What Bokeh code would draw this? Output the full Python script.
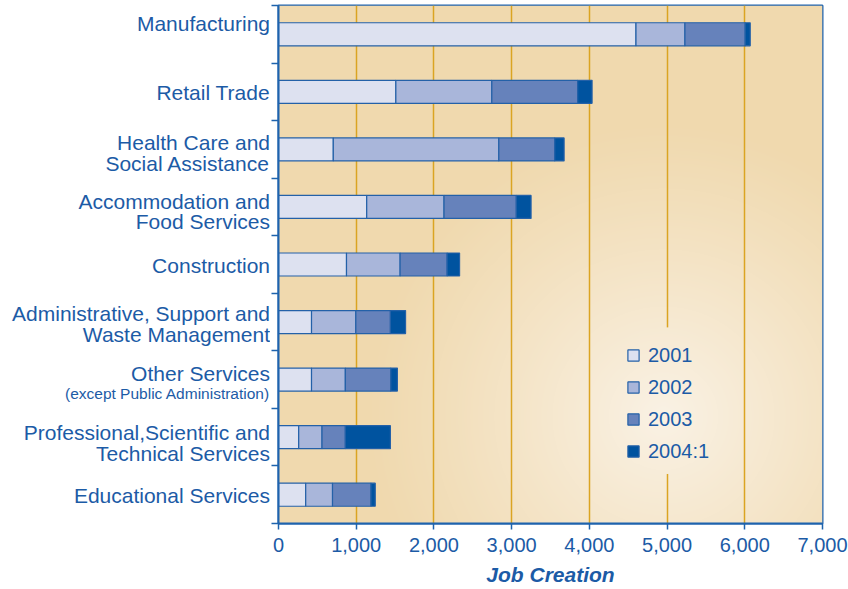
import numpy as np
from bokeh.plotting import figure
from bokeh.layouts import row
from bokeh.models import (Range1d, FactorRange, FixedTicker, NumeralTickFormatter, Legend,
                          LinearAxis)
from bokeh.core.properties import value
from bokeh.embed import file_html
from bokeh.resources import INLINE

# ---------------- data ----------------
categories = ["Manufacturing", "Retail Trade", "Health Care and\nSocial Assistance",
              "Accommodation and\nFood Services", "Construction",
              "Administrative, Support and\nWaste Management", "Other Services",
              "Professional,Scientific and\nTechnical Services", "Educational Services"]
sub_labels = ["", "", "", "", "", "", "(except Public Administration)", "", ""]
years = ["2001", "2002", "2003", "2004:1"]
v2001 = [4600, 1510, 705, 1135, 875, 425, 425, 260, 350]
v2002 = [630, 1235, 2130, 995, 690, 570, 435, 300, 345]
v2003 = [775, 1105, 720, 930, 605, 445, 585, 300, 495]
v2004 = [65, 185, 120, 190, 160, 195, 85, 580, 55]
x_ticks = [0, 1000, 2000, 3000, 4000, 5000, 6000, 7000]

# ---------------- style ----------------
FONT = "Liberation Sans"
BLUE_TXT = "#1c5ba6"
BLUE_LINE = "#1e63ad"
GOLD = "#dba422"
COLORS = ["#dde1f0", "#a9b6da", "#6682bb", "#00539f"]

H = 588
LW = 270                      # width of label panel
MW = 848 - LW                 # width of main panel
FL, FT, FB = 8, 5, 60
FW = 544                      # frame width
FR = MW - FL - FW

n = len(categories)
yr = FactorRange(factors=categories[::-1])

# ---------------- main chart ----------------
p = figure(width=MW, height=H, output_backend="svg", toolbar_location=None,
           y_range=yr, x_range=Range1d(0, 7000), y_axis_location=None,
           min_border_left=FL, min_border_right=FR, min_border_top=FT, min_border_bottom=FB,
           border_fill_color="white")

# background gradient (decoration), in synthetic category coordinates 0..n
fw, fh = FW, H - FT - FB
xs = np.arange(fw) + 0.5
ys = fh - (np.arange(fh) + 0.5)
X, Y = np.meshgrid(xs, ys)
CX, CY, R = 385, 415, 300.0
d = np.hypot(X - CX, Y - CY)
t = np.clip(1 - d / R, 0, 1) ** 1.1
beige = np.array([240, 217, 174], float)
light = np.array([250, 242, 229], float)
rgb = beige[None, None, :] + (light - beige)[None, None, :] * t[..., None]
img = np.empty((fh, fw), dtype=np.uint32)
view = img.view(dtype=np.uint8).reshape((fh, fw, 4))
for k in range(3):
    view[..., k] = rgb[..., k].astype(np.uint8)
view[..., 3] = 255
p.image_rgba(image=[img], x=0, y=0, dw=7000, dh=n, level="image")

# patch of the same background drawn over the grid behind the legend
c0, c1, r0, r1 = 360, 412, 50, 198
p.image_rgba(image=[np.ascontiguousarray(img[r0:r1, c0:c1])],
             x=c0 * 7000 / fw, y=r0 * n / fh, dw=(c1 - c0) * 7000 / fw, dh=(r1 - r0) * n / fh,
             level="glyph")

src = dict(cat=categories, s2001=v2001, s2002=v2002, s2003=v2003, s2004=v2004)
rs = p.hbar_stack(["s2001", "s2002", "s2003", "s2004"], y="cat", height=0.4, source=src,
                  fill_color=COLORS, line_color="#2461a8", line_width=1.2)

legend = Legend(items=[(y, [r]) for y, r in zip(years, rs)], location=(348, 60),
                label_text_font=FONT, label_text_font_size="20px", label_text_color=BLUE_TXT,
                glyph_width=14, glyph_height=14, label_height=24, spacing=8, padding=10,
                margin=0, label_standoff=8, border_line_color=None,
                background_fill_alpha=0)
p.add_layout(legend, "center")

# x axis
p.xaxis.ticker = FixedTicker(ticks=x_ticks)
p.xaxis.formatter = NumeralTickFormatter(format="0,0")
p.xaxis.axis_label = "Job Creation"
p.xaxis.axis_label_text_font = FONT
p.xaxis.axis_label_text_font_style = "bold italic"
p.xaxis.axis_label_text_font_size = "21px"
p.xaxis.axis_label_text_color = BLUE_TXT
p.xaxis.axis_label_standoff = 8
p.xaxis.major_label_text_font = FONT
p.xaxis.major_label_text_font_size = "20px"
p.xaxis.major_label_text_color = BLUE_TXT
p.xaxis.major_label_standoff = 8
p.xaxis.axis_line_color = BLUE_LINE
p.xaxis.axis_line_width = 2
p.xaxis.major_tick_line_color = BLUE_LINE
p.xaxis.major_tick_line_width = 1.5
p.xaxis.major_tick_out = 6
p.xaxis.major_tick_in = 0
p.xaxis.minor_tick_line_color = None

# left axis: tick marks at category boundaries
bounds = list(range(n + 1))
yax = LinearAxis(ticker=FixedTicker(ticks=bounds),
                 major_label_overrides={b: "" for b in bounds},
                 major_label_text_font_size="1px", major_label_standoff=0,
                 axis_line_color=BLUE_LINE, axis_line_width=2,
                 major_tick_line_color=BLUE_LINE, major_tick_line_width=1.5,
                 major_tick_out=7, major_tick_in=0, minor_tick_line_color=None)
p.add_layout(yax, "left")

p.xgrid.ticker = FixedTicker(ticks=x_ticks)
p.xgrid.grid_line_color = GOLD
p.xgrid.grid_line_width = 1.5
p.ygrid.grid_line_color = None
p.outline_line_color = BLUE_LINE
p.outline_line_width = 2

# ---------------- category label panel ----------------
lp = figure(width=LW, height=H, output_backend="svg", toolbar_location=None,
            y_range=yr, x_range=Range1d(0, LW), x_axis_location=None, y_axis_location=None,
            min_border_left=0, min_border_right=0, min_border_top=FT, min_border_bottom=FB,
            border_fill_color="white", background_fill_color="white", outline_line_color=None)
lp.grid.grid_line_color = None

line1 = [c.split("\n")[0] for c in categories]
line2 = [c.split("\n")[1] if "\n" in c else "" for c in categories]
lab_src = dict(cat=categories, l1=line1, l2=line2, sub=sub_labels,
               d1=[-11, 0.5, -7, -5.5, 1, -8.5, -6, -4.5, 1],
               d2=[0, 0, 14, 15, 0, 12.5, 0, 16.5, 0],
               ds=[0, 0, 0, 0, 0, 0, 13.5, 0, 0])
common = dict(x=LW - 0.5, y="cat", source=lab_src, text_align="right",
              text_baseline="middle", text_font=value(FONT), text_color=BLUE_TXT)
lp.text(text="l1", y_offset="d1", text_font_size="21px", **common)
lp.text(text="l2", y_offset="d2", text_font_size="21px", **common)
lp.text(text="sub", y_offset="ds", text_font_size="15.5px", **common)

layout = row(lp, p, spacing=0)
open("out.html", "w").write(file_html(layout, INLINE))
